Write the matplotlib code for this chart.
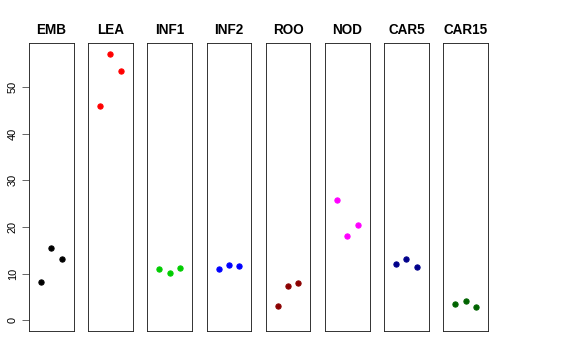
import matplotlib
matplotlib.use('Agg')
import matplotlib.pyplot as plt

plt.rcParams['font.family'] = ['Liberation Sans', 'DejaVu Sans']

tissues = ['EMB', 'LEA', 'INF1', 'INF2', 'ROO', 'NOD', 'CAR5', 'CAR15']
colors = ['black', 'red', '#00CD00', 'blue', '#8B0000', 'magenta', '#00008B', '#006400']
rep = [1, 2, 3]
emb = [8.2, 15.5, 13.1]
lea = [45.9, 57.1, 53.3]
inf1 = [10.9, 10.1, 11.1]
inf2 = [10.9, 11.9, 11.6]
roo = [3.0, 7.4, 7.9]
nod = [25.8, 18.1, 20.4]
car5 = [12.0, 13.1, 11.4]
car15 = [3.6, 4.2, 2.9]
values = [emb, lea, inf1, inf2, roo, nod, car5, car15]

fig = plt.figure(figsize=(8, 5), dpi=72)
W, H = 576, 360
ymin, ymax = 0, 57.1
pad = (ymax - ymin) * 0.04

for i, (name, col, vals) in enumerate(zip(tissues, colors, values)):
    left = 29 + i * 59.2
    ax = fig.add_axes([left / W, 1 - 331 / H, 44.5 / W, 288 / H])
    ax.scatter(rep, vals, color=col, s=28, zorder=3)
    ax.set_xlim(-0.16, 4.16)
    ax.set_ylim(ymin - pad, ymax + pad)
    ax.set_xticks([])
    ax.set_title(name, fontweight='bold', fontsize=13.5, pad=9)
    for s in ax.spines.values():
        s.set_linewidth(0.9)
        s.set_color('#222222')
    if i == 0:
        ax.set_yticks([0, 10, 20, 30, 40, 50])
        ax.tick_params(axis='y', labelsize=11, length=7, width=0.8,
                       color='#444444', pad=4)
        for lab in ax.get_yticklabels():
            lab.set_rotation(90)
            lab.set_va('center')
    else:
        ax.set_yticks([])

plt.savefig('out.png', dpi=72)
